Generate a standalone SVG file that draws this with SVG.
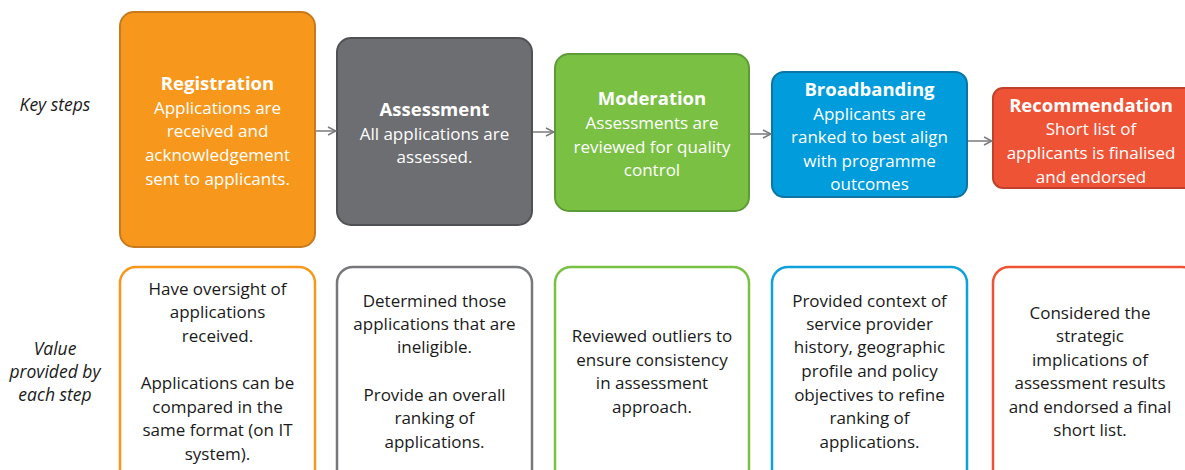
<svg xmlns="http://www.w3.org/2000/svg" width="1185" height="470" viewBox="0 0 1185 470">
  <defs>
    <marker id="arrow" viewBox="0 0 10 10" refX="9" refY="5" markerWidth="10" markerHeight="10" markerUnits="userSpaceOnUse" orient="auto">
      <path d="M1,1 L9,5 L1,9" fill="none" stroke="#7a7a7c" stroke-width="1.5"/>
    </marker>
    <style>
      text { font-family: "Open Sans", "Liberation Sans", sans-serif; text-anchor: middle; }
      .title { font-size: 18.5px; font-weight: bold; fill: #ffffff; }
      .body { font-size: 17px; fill: #ffffff; }
      .value { font-size: 17px; fill: #1a1a1a; }
      .side { font-size: 17.5px; font-style: italic; fill: #1a1a1a; }
      .step { stroke-width: 2; }
      .card { fill: #ffffff; stroke-width: 2.5; }
      .link { stroke: #7a7a7c; stroke-width: 1.5; fill: none; marker-end: url(#arrow); }
    </style>
  </defs>
  <rect width="1185" height="470" fill="#ffffff"/>

  <!-- row labels -->
  <g id="labels">
    <text class="side" x="55" y="111">Key steps</text>
    <text class="side" x="55" y="355">Value</text>
    <text class="side" x="55" y="378">provided by</text>
    <text class="side" x="55" y="401">each step</text>
  </g>

  <!-- key steps -->
  <g id="registration">
    <rect class="step" x="120" y="12" width="195" height="235" rx="14" fill="#f7981d" stroke="#c77a1e"/>
    <text class="title" x="217.5" y="90">Registration</text>
    <text class="body" x="217.5" y="114">Applications are</text>
    <text class="body" x="217.5" y="137">received and</text>
    <text class="body" x="217.5" y="161">acknowledgement</text>
    <text class="body" x="217.5" y="185">sent to applicants.</text>
  </g>
  <g id="assessment">
    <rect class="step" x="337" y="38" width="195" height="187" rx="14" fill="#6d6e71" stroke="#505154"/>
    <text class="title" x="434.5" y="116">Assessment</text>
    <text class="body" x="434.5" y="140">All applications are</text>
    <text class="body" x="434.5" y="163">assessed.</text>
  </g>
  <g id="moderation">
    <rect class="step" x="555" y="54" width="194" height="157" rx="14" fill="#7ac143" stroke="#5e9b36"/>
    <text class="title" x="652" y="105">Moderation</text>
    <text class="body" x="652" y="129">Assessments are</text>
    <text class="body" x="652" y="153">reviewed for quality</text>
    <text class="body" x="652" y="176">control</text>
  </g>
  <g id="broadbanding">
    <rect class="step" x="772" y="72" width="195" height="125" rx="12" fill="#019cdb" stroke="#0b76a6"/>
    <text class="title" x="869.5" y="96">Broadbanding</text>
    <text class="body" x="869.5" y="120">Applicants are</text>
    <text class="body" x="869.5" y="143">ranked to best align</text>
    <text class="body" x="869.5" y="167">with programme</text>
    <text class="body" x="869.5" y="190">outcomes</text>
  </g>
  <g id="recommendation">
    <rect class="step" x="993" y="88" width="205" height="100" rx="10" fill="#ef5336" stroke="#c0412b"/>
    <text class="title" x="1091" y="112">Recommendation</text>
    <text class="body" x="1091" y="135">Short list of</text>
    <text class="body" x="1091" y="159">applicants is finalised</text>
    <text class="body" x="1091" y="183">and endorsed</text>
  </g>

  <!-- flow between steps -->
  <g id="connectors">
    <path class="link" d="M316,131 L336,131"/>
    <path class="link" d="M533,132 L554,132"/>
    <path class="link" d="M750,134 L771,134"/>
    <path class="link" d="M968,141 L992,141"/>
  </g>

  <!-- value provided by each step -->
  <g id="value-registration">
    <rect class="card" x="120" y="267" width="195" height="230" rx="16" stroke="#f7981d"/>
    <text class="value" x="217.5" y="295">Have oversight of</text>
    <text class="value" x="217.5" y="318">applications</text>
    <text class="value" x="217.5" y="342">received.</text>
    <text class="value" x="217.5" y="389">Applications can be</text>
    <text class="value" x="217.5" y="413">compared in the</text>
    <text class="value" x="217.5" y="436">same format (on IT</text>
    <text class="value" x="217.5" y="460">system).</text>
  </g>
  <g id="value-assessment">
    <rect class="card" x="337" y="267" width="195" height="230" rx="16" stroke="#77787b"/>
    <text class="value" x="434.5" y="307">Determined those</text>
    <text class="value" x="434.5" y="330">applications that are</text>
    <text class="value" x="434.5" y="353">ineligible.</text>
    <text class="value" x="434.5" y="401">Provide an overall</text>
    <text class="value" x="434.5" y="424">ranking of</text>
    <text class="value" x="434.5" y="448">applications.</text>
  </g>
  <g id="value-moderation">
    <rect class="card" x="555" y="267" width="194" height="230" rx="16" stroke="#7ac143"/>
    <text class="value" x="652" y="342">Reviewed outliers to</text>
    <text class="value" x="652" y="366">ensure consistency</text>
    <text class="value" x="652" y="389">in assessment</text>
    <text class="value" x="652" y="413">approach.</text>
  </g>
  <g id="value-broadbanding">
    <rect class="card" x="772" y="267" width="195" height="230" rx="16" stroke="#0fa1dc"/>
    <text class="value" x="869.5" y="307">Provided context of</text>
    <text class="value" x="869.5" y="330">service provider</text>
    <text class="value" x="869.5" y="353">history, geographic</text>
    <text class="value" x="869.5" y="377">profile and policy</text>
    <text class="value" x="869.5" y="401">objectives to refine</text>
    <text class="value" x="869.5" y="424">ranking of</text>
    <text class="value" x="869.5" y="448">applications.</text>
  </g>
  <g id="value-recommendation">
    <rect class="card" x="993" y="267" width="205" height="230" rx="16" stroke="#ef5336"/>
    <text class="value" x="1090" y="319">Considered the</text>
    <text class="value" x="1090" y="342">strategic</text>
    <text class="value" x="1090" y="366">implications of</text>
    <text class="value" x="1090" y="389">assessment results</text>
    <text class="value" x="1090" y="413">and endorsed a final</text>
    <text class="value" x="1090" y="436">short list.</text>
  </g>
</svg>
